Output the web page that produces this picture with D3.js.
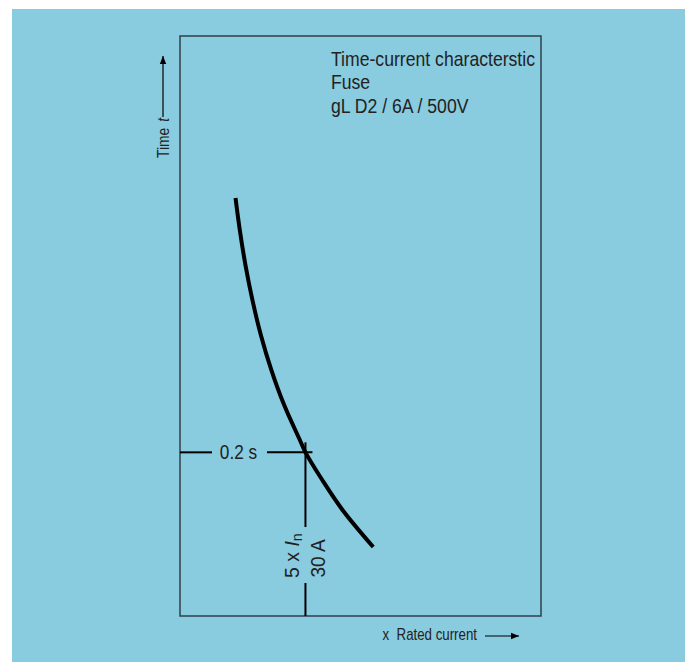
<!DOCTYPE html>
<meta charset="utf-8">
<style>
body { margin: 0; background: #fff; }
text { font-family: "Liberation Sans", Arial, sans-serif; fill: #222; }
.curve { fill: none; stroke: #000; stroke-width: 4px; }
.frame { fill: none; stroke: #2f4049; stroke-width: 1.5px; }
.mark { stroke: #000; stroke-width: 2px; }
</style>
<body>
<svg width="685" height="662"></svg>
<script src="https://d3js.org/d3.v7.min.js"></script>
<script>

// curve: current (A) vs melting time (s)
var current = [16.26, 16.88, 17.74, 18.85, 20.31, 22.26, 24.9, 28.56, 30, 34.71, 41.51, 54.3];
var time    = [7.16, 4.57, 2.79, 1.71, 1.04, 0.637, 0.389, 0.238, 0.2, 0.136, 0.0889, 0.0528];

var titleLines = ["Time-current characterstic", "Fuse", "gL D2 / 6A / 500V"];
var markCurrent = 30, markTime = 0.2;
var timeLabel = "0.2 s";

var svg = d3.select("svg");

// background panel
svg.append("rect")
    .attr("x", 12).attr("y", 9)
    .attr("width", 673).attr("height", 653)
    .attr("fill", "#89cbdf");

// scales (log-log, axes have no ticks)
var x = d3.scaleLog().domain([10, 236]).range([180, 541]);
var y = d3.scaleLog().domain([0.02, 70]).range([616, 36]);

var defs = svg.append("defs");
defs.append("marker")
    .attr("id", "arrow")
    .attr("viewBox", "0 0 10 10")
    .attr("refX", 10).attr("refY", 5)
    .attr("markerWidth", 10).attr("markerHeight", 8)
    .attr("markerUnits", "userSpaceOnUse")
    .attr("orient", "auto")
  .append("path")
    .attr("d", "M0,1 L10,5 L0,9 Z")
    .attr("fill", "#000");

// frame
svg.append("rect")
    .attr("class", "frame")
    .attr("x", x.range()[0]).attr("y", y.range()[1])
    .attr("width", x.range()[1] - x.range()[0])
    .attr("height", y.range()[0] - y.range()[1]);

// text squeezed horizontally to look like the condensed face of the original
function place(px, py, rot, sx) {
  return "translate(" + px + "," + py + ")" + (rot ? " rotate(" + rot + ")" : "") + " scale(" + sx + ",1)";
}

// title block
var title = svg.append("g")
    .attr("transform", place(331, 66, 0, 0.86));
title.selectAll("text")
    .data(titleLines)
  .enter().append("text")
    .attr("y", function(d, i) { return i * 23.5; })
    .attr("font-size", 20.5)
    .text(function(d) { return d; });

// marker lines at 30 A / 0.2 s
var mx = x(markCurrent), my = y(markTime);
svg.append("line").attr("class", "mark")
    .attr("x1", x.range()[0]).attr("x2", 212).attr("y1", my).attr("y2", my);
svg.append("line").attr("class", "mark")
    .attr("x1", 267).attr("x2", mx + 7).attr("y1", my).attr("y2", my);
svg.append("line").attr("class", "mark")
    .attr("x1", mx).attr("x2", mx).attr("y1", my - 10).attr("y2", 527);
svg.append("line").attr("class", "mark")
    .attr("x1", mx).attr("x2", mx).attr("y1", 583).attr("y2", y.range()[0]);

svg.append("text")
    .attr("transform", place(238.5, my + 6.5, 0, 0.84))
    .attr("font-size", 20.5)
    .attr("text-anchor", "middle")
    .text(timeLabel);

// rotated current label
var cl = svg.append("text")
    .attr("transform", place(mx - 6, 578, -90, 0.95))
    .attr("font-size", 20.5);
cl.append("tspan").text("5 x ");
cl.append("tspan").attr("font-style", "italic").text("I");
cl.append("tspan").attr("font-size", 15).attr("dy", 3).text("n");
svg.append("text")
    .attr("transform", place(mx + 19.5, 577.5, -90, 0.93))
    .attr("font-size", 20.5)
    .text("30 A");

// the curve
var pts = current.map(function(c, i) { return [x(c), y(time[i])]; });
svg.append("path")
    .attr("class", "curve")
    .attr("d", d3.line().curve(d3.curveCatmullRom)(pts));

// y axis label
var yl = svg.append("text")
    .attr("transform", place(168.5, 158, -90, 0.84))
    .attr("font-size", 16.5);
yl.append("tspan").text("Time");
yl.append("tspan").attr("font-style", "italic").attr("dx", 7).text("t");
svg.append("line")
    .attr("x1", 163).attr("x2", 163).attr("y1", 117).attr("y2", 56)
    .attr("stroke", "#000").attr("stroke-width", 1.2)
    .attr("marker-end", "url(#arrow)");

// x axis label
var xl = svg.append("text")
    .attr("transform", place(382.5, 640, 0, 0.83))
    .attr("font-size", 16);
xl.append("tspan").text("x");
xl.append("tspan").attr("dx", 9).text("Rated current");
svg.append("line")
    .attr("x1", 485).attr("x2", 519).attr("y1", 636).attr("y2", 636)
    .attr("stroke", "#000").attr("stroke-width", 1.2)
    .attr("marker-end", "url(#arrow)");

</script>
</body>
